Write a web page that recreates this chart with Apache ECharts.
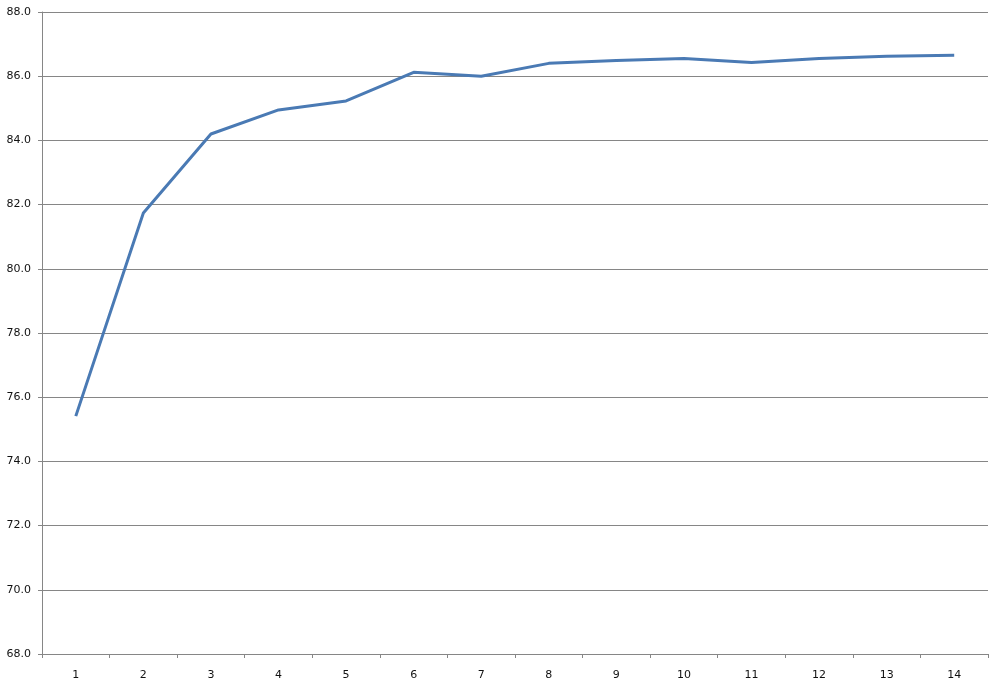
<!DOCTYPE html>
<html><head><meta charset="utf-8">
<script src="https://cdn.jsdelivr.net/npm/echarts@6/dist/echarts.min.js"></script>
<style>html,body{margin:0;padding:0;background:#fff}#c{width:999px;height:693px}</style>
</head><body><div id="c"></div>
<script>
const categories = ['1','2','3','4','5','6','7','8','9','10','11','12','13','14'];
const values = [75.41, 81.74, 84.20, 84.95, 85.23, 86.12, 86.00, 86.40, 86.49, 86.55, 86.43, 86.55, 86.62, 86.65];
const yMin = 68, yMax = 88, yStep = 2;

const chart = echarts.init(document.getElementById('c'), null, {renderer:'canvas'});
chart.setOption({
  animation:false,
  backgroundColor:'#ffffff',
  grid:{left:42, right:11, top:12, bottom:39, containLabel:false},
  xAxis:{
    type:'category', data:categories, boundaryGap:true,
    axisLine:{lineStyle:{color:'#868686', width:1}},
    axisTick:{show:true, alignWithLabel:false, length:4, inside:false, lineStyle:{color:'#868686'}},
    axisLabel:{color:'#111', fontFamily:'DejaVu Sans', fontSize:11, margin:16},
    splitLine:{show:false}
  },
  yAxis:{
    type:'value', min:yMin, max:yMax, interval:yStep,
    axisLine:{show:true, lineStyle:{color:'#868686', width:1}},
    axisTick:{show:true, length:4, lineStyle:{color:'#868686'}},
    axisLabel:{color:'#111', fontFamily:'DejaVu Sans', fontSize:11, margin:11, formatter:v=>v.toFixed(1)},
    splitLine:{show:true, lineStyle:{color:'#868686', width:1}}
  },
  series:[{
    type:'line', data:values, symbol:'none',
    lineStyle:{color:'#4a7ab4', width:3},
    itemStyle:{color:'#4a7ab4'}
  }]
});
</script></body></html>
